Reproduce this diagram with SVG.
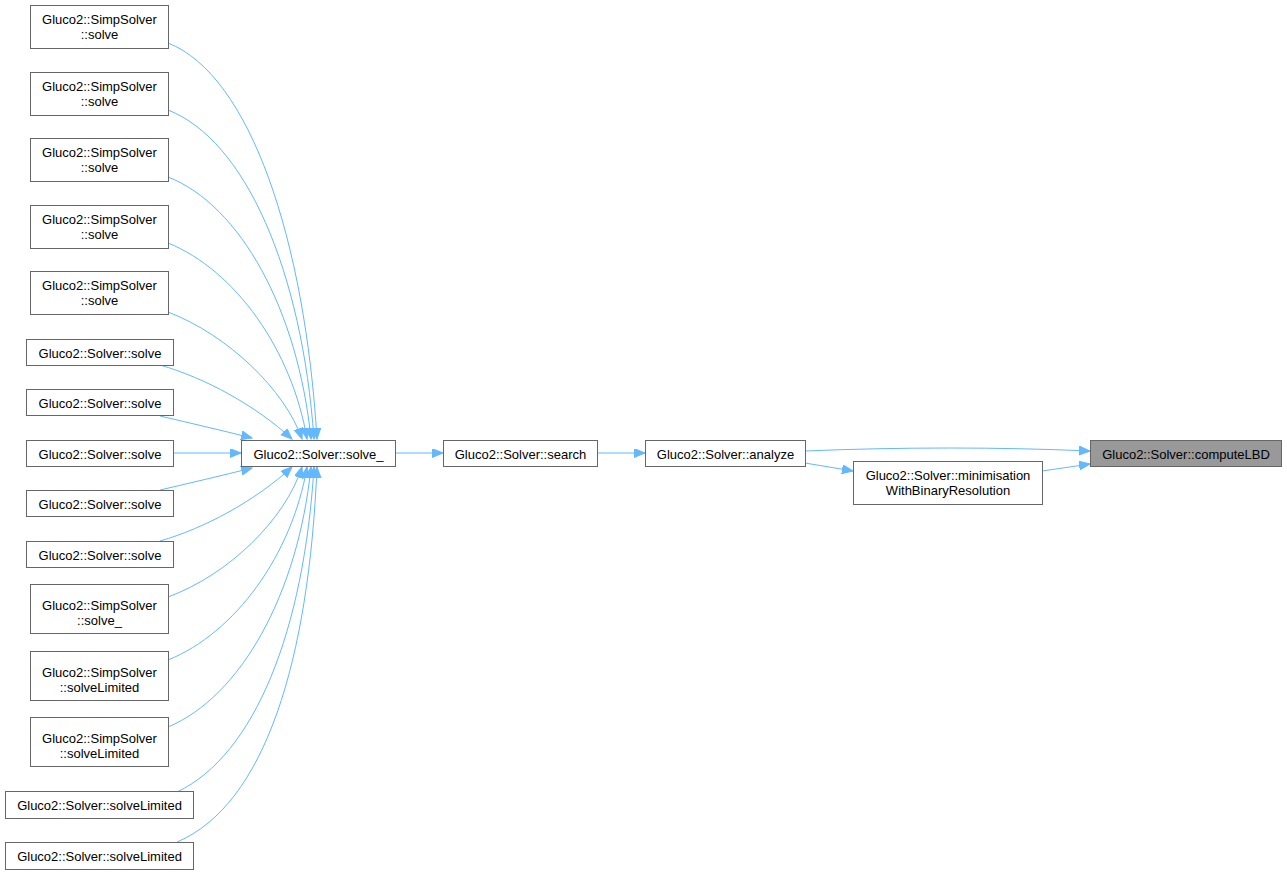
<svg xmlns="http://www.w3.org/2000/svg" width="1287" height="875" viewBox="0 0 1287 875">
<defs>
<style>
.n rect{fill:#fff;stroke:#666;stroke-width:1}
.n.hl rect{fill:#999}
.n text{font-family:"Liberation Sans",Arial,sans-serif;font-size:13px;fill:#000;text-anchor:middle}
.e path{fill:none;stroke:#63b8ff;stroke-width:1;marker-end:url(#ah)}
</style>
<marker id="ah" markerWidth="12" markerHeight="10" refX="11" refY="4.5" orient="auto" markerUnits="userSpaceOnUse">
<path d="M0,0 L11,4.5 L0,9 Z" fill="#63b8ff" stroke="#63b8ff" stroke-width="1"/>
</marker>
</defs>
<rect width="1287" height="875" fill="#fff"/>
<g class="e" id="edges">
<path d="M168,43 C250,75 305,240 317,439"/>
<path d="M168,110 C245,140 302,270 314,439"/>
<path d="M168,177 C240,205 298,310 311,439"/>
<path d="M168,243 C235,270 292,350 307,439"/>
<path d="M168,312 C228,335 285,390 302,439"/>
<path d="M160,365 C205,378 255,405 292,439"/>
<path d="M160,416 C190,423 220,430 252,438"/>
<path d="M173,453 L241,453"/>
<path d="M160,490 C190,483 220,476 252,468"/>
<path d="M160,541 C205,528 255,501 292,467"/>
<path d="M168,597 C228,575 285,520 302,467"/>
<path d="M168,660 C235,633 292,555 307,467"/>
<path d="M168,727 C240,697 298,595 311,467"/>
<path d="M177,792 C255,755 304,630 314,467"/>
<path d="M177,842 C265,805 309,660 317,467"/>
<path d="M395,453 L443,453"/>
<path d="M597,453 L645,453"/>
<path d="M805,451 C900,447 1000,447 1090,451"/>
<path d="M805,463 L853,471"/>
<path d="M1042,471 L1090,464"/>
</g>
<g class="n" id="n1"><rect x="30.5" y="5.5" width="138" height="43"/><text x="99.5" y="24">Gluco2::SimpSolver</text><text x="99.5" y="39">::solve</text></g>
<g class="n" id="n2"><rect x="30.5" y="72.5" width="138" height="43"/><text x="99.5" y="91">Gluco2::SimpSolver</text><text x="99.5" y="106">::solve</text></g>
<g class="n" id="n3"><rect x="30.5" y="138.5" width="138" height="43"/><text x="99.5" y="157">Gluco2::SimpSolver</text><text x="99.5" y="172">::solve</text></g>
<g class="n" id="n4"><rect x="30.5" y="205.5" width="138" height="43"/><text x="99.5" y="224">Gluco2::SimpSolver</text><text x="99.5" y="239">::solve</text></g>
<g class="n" id="n5"><rect x="30.5" y="271.5" width="138" height="43"/><text x="99.5" y="290">Gluco2::SimpSolver</text><text x="99.5" y="305">::solve</text></g>
<g class="n" id="n6"><rect x="26.5" y="339.5" width="147" height="26"/><text x="100" y="357.5">Gluco2::Solver::solve</text></g>
<g class="n" id="n7"><rect x="26.5" y="389.5" width="147" height="26"/><text x="100" y="407.5">Gluco2::Solver::solve</text></g>
<g class="n" id="n8"><rect x="26.5" y="440.5" width="147" height="26"/><text x="100" y="458.5">Gluco2::Solver::solve</text></g>
<g class="n" id="n9"><rect x="26.5" y="490.5" width="147" height="26"/><text x="100" y="508.5">Gluco2::Solver::solve</text></g>
<g class="n" id="n10"><rect x="26.5" y="541.5" width="147" height="26"/><text x="100" y="559.5">Gluco2::Solver::solve</text></g>
<g class="n" id="n11"><rect x="30.5" y="584.5" width="138" height="49"/><text x="99.5" y="609.5">Gluco2::SimpSolver</text><text x="99.5" y="624.5">::solve_</text></g>
<g class="n" id="n12"><rect x="30.5" y="651.5" width="138" height="49"/><text x="99.5" y="676.5">Gluco2::SimpSolver</text><text x="99.5" y="691.5">::solveLimited</text></g>
<g class="n" id="n13"><rect x="30.5" y="717.5" width="138" height="49"/><text x="99.5" y="742.5">Gluco2::SimpSolver</text><text x="99.5" y="757.5">::solveLimited</text></g>
<g class="n" id="n14"><rect x="5.5" y="791.5" width="188" height="27"/><text x="99.5" y="810">Gluco2::Solver::solveLimited</text></g>
<g class="n" id="n15"><rect x="5.5" y="842.5" width="188" height="27"/><text x="99.5" y="861">Gluco2::Solver::solveLimited</text></g>
<g class="n" id="solve_"><rect x="241.5" y="440.5" width="154" height="26"/><text x="318.5" y="458.5">Gluco2::Solver::solve_</text></g>
<g class="n" id="search"><rect x="443.5" y="440.5" width="154" height="26"/><text x="520.5" y="458.5">Gluco2::Solver::search</text></g>
<g class="n" id="analyze"><rect x="645.5" y="440.5" width="160" height="26"/><text x="725.5" y="458.5">Gluco2::Solver::analyze</text></g>
<g class="n" id="minim"><rect x="853.5" y="461.5" width="189" height="43"/><text x="948" y="479.5">Gluco2::Solver::minimisation</text><text x="948" y="494.5">WithBinaryResolution</text></g>
<g class="n hl" id="computeLBD"><rect x="1090.5" y="440.5" width="191" height="26"/><text x="1186" y="458.5">Gluco2::Solver::computeLBD</text></g>
</svg>
